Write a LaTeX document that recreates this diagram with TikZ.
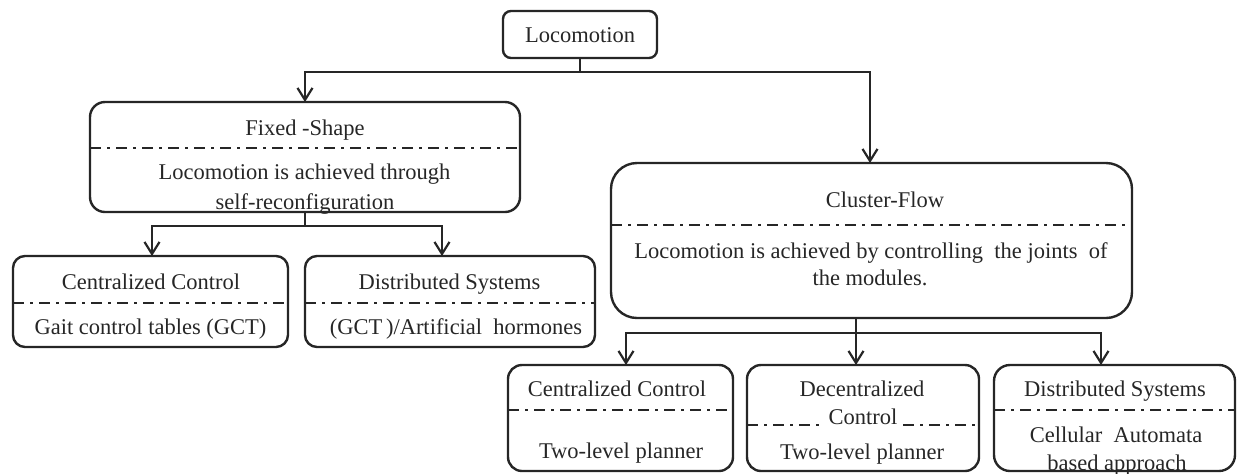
\documentclass[tikz,border=0pt]{standalone}
\usepackage{fontspec}
\setmainfont{Liberation Serif}
\usetikzlibrary{arrows.meta}
\begin{document}
\begin{tikzpicture}[x=0.5pt,y=-0.5pt,
  box/.style={draw=black!85, line width=1.2pt, inner sep=0pt, outer sep=0pt, rectangle},
  lbl/.style={anchor=base, inner sep=0pt, text=black!85, font=\fontsize{11.25pt}{13pt}\selectfont},
  sep/.style={draw=black!85, line width=1.2pt, dash pattern=on 5.5pt off 3pt on 1.5pt off 3pt},
  link/.style={draw=black!85, line width=1.2pt},
  arr/.style={link, -{Straight Barb[length=6pt,width=7.5pt,line width=1.1pt]}}]
\useasboundingbox (0,0) rectangle (1238,473);

% boxes
\node[box, rounded corners=4pt, minimum width=77pt, minimum height=23.5pt] (top) at (580,34.5) {};
\node[box, rounded corners=7.5pt, minimum width=215pt, minimum height=55pt] (fixed) at (305,157) {};
\node[box, rounded corners=13pt, minimum width=260.5pt, minimum height=77.5pt] (cluster) at (871.5,240.5) {};
\node[box, rounded corners=6pt, minimum width=137.5pt, minimum height=45.5pt] (cc1) at (150.5,301.5) {};
\node[box, rounded corners=6pt, minimum width=145pt, minimum height=45.5pt] (ds1) at (450,301.5) {};
\node[box, rounded corners=7pt, minimum width=112.5pt, minimum height=53pt] (cc2) at (620.5,418) {};
\node[box, rounded corners=7pt, minimum width=116pt, minimum height=53pt] (dc2) at (863,418) {};
\node[box, rounded corners=8pt, minimum width=120.5pt, minimum height=53pt] (ds2) at (1114.5,418) {};

% separators
\draw[sep] (fixed.west |- 0,148) -- (fixed.east |- 0,148);
\draw[sep] (cluster.west |- 0,225) -- (cluster.east |- 0,225);
\draw[sep] (cc1.west |- 0,303) -- (cc1.east |- 0,303);
\draw[sep] (ds1.west |- 0,303) -- (ds1.east |- 0,303);
\draw[sep] (cc2.west |- 0,410) -- (cc2.east |- 0,410);
\draw[sep] (dc2.west |- 0,425) -- (dc2.east |- 0,425);
\draw[sep] (ds2.west |- 0,410) -- (ds2.east |- 0,410);

% texts
\node[lbl] (t0) at (580,42) {Locomotion};
\node[lbl] (f1) at (305,135) {Fixed -Shape};
\node[lbl] (f2) at (304.5,179) {Locomotion is achieved through};
\node[lbl] (f3) at (305,209) {self-reconfiguration};
\node[lbl] (c1) at (885,207) {Cluster-Flow};
\node[lbl] (c2) at (871,258) {Locomotion is achieved by controlling\ \ the joints\ \ of};
\node[lbl] (c3) at (870,285) {the modules.};
\node[lbl] (a1) at (151,289) {Centralized\ Control};
\node[lbl] (a2) at (150.5,334) {Gait control tables (GCT)};
\node[lbl] (b1) at (449.5,289) {Distributed\ Systems};
\node[lbl] (b2) at (456,334) {(GCT\,)/Artificial\ \ hormones};
\node[lbl] (d1) at (617,396) {Centralized\ Control};
\node[lbl] (d2) at (621,458) {Two-level\ planner};
\node[lbl] (e1) at (862,396) {Decentralized};
\node[lbl, fill=white, inner xsep=3pt, inner ysep=1.5pt] (e2) at (863,424) {Control};
\node[lbl] (e3) at (862,459) {Two-level\ planner};
\node[lbl] (g1) at (1115,396) {Distributed\ Systems};
\node[lbl] (g2) at (1116,442) {Cellular\ \ Automata};
\node[lbl] (g3) at (1117,470) {based approach};

% connectors
\coordinate (j0) at (580,72);
\draw[link] (top.south) -- (j0);
\draw[arr] (j0) -| (fixed.north);
\draw[arr] (j0) -| (cluster.north -| 870,0);

\coordinate (j1) at (305,226);
\draw[link] (fixed.south) -- (j1);
\draw[arr] (j1) -| (cc1.north -| 152,0);
\draw[arr] (j1) -| (ds1.north -| 442,0);

\coordinate (j2) at (856,333);
\draw[link] (cluster.south -| j2) -- (j2);
\draw[arr] (j2) -| (cc2.north -| 626,0);
\draw[arr] (j2) -- (dc2.north -| j2);
\draw[arr] (j2) -| (ds2.north -| 1101,0);
\end{tikzpicture}
\end{document}
